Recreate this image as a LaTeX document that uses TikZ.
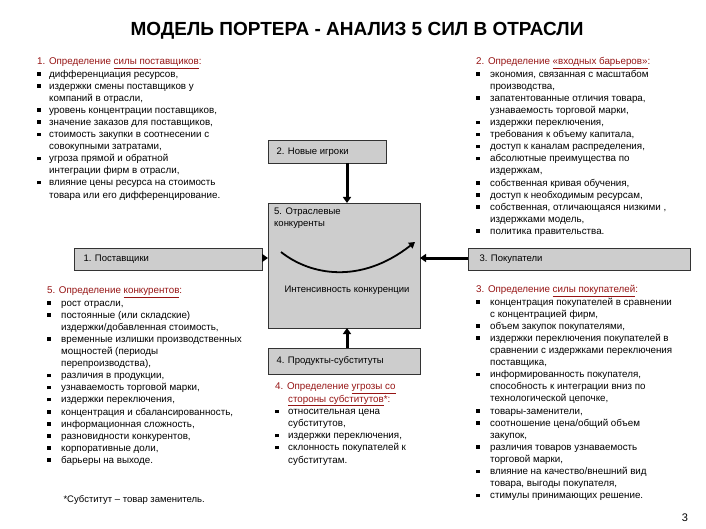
\documentclass[tikz,border=0pt]{standalone}
\usepackage{fontspec}
\setmainfont{Liberation Sans}
\usetikzlibrary{arrows.meta}
\definecolor{hd}{RGB}{150,20,20}
\definecolor{bx}{RGB}{205,205,205}
\newcommand\bb{\rule[1.5pt]{3.5pt}{3.5pt}}
\newcommand\hu[1]{\underline{#1}}
\tikzset{
  box/.style={draw=black!80,fill=bx,line width=0.8pt,inner sep=0pt},
  lbl/.style={anchor=west,font=\fontsize{9.5}{11}\selectfont},
  blk/.style={anchor=north west,inner sep=0pt,font=\fontsize{9.8}{12.1}\selectfont},
  arr/.style={line width=3pt,-{Triangle[length=6pt,width=8pt]}}
}
\begin{document}
\begin{tikzpicture}[x=1pt,y=-1pt]
\useasboundingbox (0,0) rectangle (706,529);
\node[font=\bfseries\fontsize{19}{21}\selectfont] (title) at (357,31) {МОДЕЛЬ ПОРТЕРА - АНАЛИЗ 5 СИЛ В ОТРАСЛИ};

% boxes
\node[box,minimum width=118pt,minimum height=23pt,anchor=north west] (new) at (268,140) {};
\node[lbl] (newt) at (273,152) {2. Новые игроки};
\node[box,minimum width=152pt,minimum height=125pt,anchor=north west] (riv) at (268,203) {};
\node[blk,align=left,font=\fontsize{9.5}{11.5}\selectfont] (rivt) at (274,208) {5. Отраслевые\\конкуренты};
\node[font=\fontsize{9.5}{11}\selectfont] (int) at (347,290) {Интенсивность конкуренции};
\node[box,minimum width=152pt,minimum height=26pt,anchor=north west] (sub) at (268,348) {};
\node[lbl] (subt) at (273,361) {4. Продукты-субституты};
\node[box,minimum width=188pt,minimum height=22pt,anchor=north west] (sup) at (74,248) {};
\node[lbl] (supt) at (80,259) {1. Поставщики};
\node[box,minimum width=222pt,minimum height=22pt,anchor=north west] (buy) at (468,248) {};
\node[lbl] (buyt) at (476,259) {3. Покупатели};

\coordinate (c1) at (281,252);
\coordinate (c2) at (415,242);
\draw[line width=1.8pt,-{Triangle[length=6pt,width=7pt]}] (c1) .. controls (310,275) and (360,285) .. (c2);

\coordinate (a1) at (347,163);
\coordinate (a2) at (347,203);
\coordinate (a3) at (347,348);
\coordinate (a4) at (347,328);
\coordinate (a5) at (262,258);
\coordinate (a6) at (268,258);
\coordinate (a7) at (468,258);
\coordinate (a8) at (420,258);
\draw[arr] (a1) -- (a2);
\draw[arr] (a3) -- (a4);
\draw[arr] (a5) -- (a6);
\draw[arr] (a7) -- (a8);

% top left
\node[blk] (tl) at (37,56) {\begin{tabular}{@{}p{12pt}@{}l@{}}
\multicolumn{2}{@{}l@{}}{\color{hd}1. Определение \hu{силы поставщиков}:}\\
\bb & дифференциация ресурсов,\\
\bb & издержки смены поставщиков у\\
 & компаний в отрасли,\\
\bb & уровень концентрации поставщиков,\\
\bb & значение заказов для поставщиков,\\
\bb & стоимость закупки в соотнесении с\\
 & совокупными затратами,\\
\bb & угроза прямой и обратной\\
 & интеграции фирм в отрасли,\\
\bb & влияние цены ресурса на стоимость\\
 & товара или его дифференцирование.
\end{tabular}};

% top right
\node[blk] (tr) at (476,56) {\begin{tabular}{@{}p{14pt}@{}l@{}}
\multicolumn{2}{@{}l@{}}{\color{hd}2. Определение \hu{«входных барьеров»}:}\\
\bb & экономия, связанная с масштабом\\
 & производства,\\
\bb & запатентованные отличия товара,\\
 & узнаваемость торговой марки,\\
\bb & издержки переключения,\\
\bb & требования к объему капитала,\\
\bb & доступ к каналам распределения,\\
\bb & абсолютные преимущества по\\
 & издержкам,\\
\bb & собственная кривая обучения,\\
\bb & доступ к необходимым ресурсам,\\
\bb & собственная, отличающаяся низкими ,\\
 & издержками модель,\\
\bb & политика правительства.
\end{tabular}};

% bottom left
\node[blk] (bl) at (47,285) {\begin{tabular}{@{}p{14pt}@{}l@{}}
\multicolumn{2}{@{}l@{}}{\color{hd}5. Определение \hu{конкурентов}:}\\
\bb & рост отрасли,\\
\bb & постоянные (или складские)\\
 & издержки/добавленная стоимость,\\
\bb & временные излишки производственных\\
 & мощностей (периоды\\
 & перепроизводства),\\
\bb & различия в продукции,\\
\bb & узнаваемость торговой марки,\\
\bb & издержки переключения,\\
\bb & концентрация и сбалансированность,\\
\bb & информационная сложность,\\
\bb & разновидности конкурентов,\\
\bb & корпоративные доли,\\
\bb & барьеры на выходе.
\end{tabular}};
\node[anchor=west,font=\fontsize{9.5}{11}\selectfont] (foot) at (60,500) {*Субститут – товар заменитель.};

% bottom middle
\node[blk] (bm) at (275,381) {\begin{tabular}{@{}p{13pt}@{}l@{}}
\multicolumn{2}{@{}l@{}}{\color{hd}4. Определение \hu{угрозы со}}\\
 & \color{hd}\hu{стороны субститутов}*:\\
\bb & относительная цена\\
 & субститутов,\\
\bb & издержки переключения,\\
\bb & склонность покупателей к\\
 & субститутам.
\end{tabular}};

% bottom right
\node[blk] (br) at (476,284) {\begin{tabular}{@{}p{14pt}@{}l@{}}
\multicolumn{2}{@{}l@{}}{\color{hd}3. Определение \hu{силы покупателей}:}\\
\bb & концентрация покупателей в сравнении\\
 & с концентрацией фирм,\\
\bb & объем закупок покупателями,\\
\bb & издержки переключения покупателей в\\
 & сравнении с издержками переключения\\
 & поставщика,\\
\bb & информированность покупателя,\\
 & способность к интеграции вниз по\\
 & технологической цепочке,\\
\bb & товары-заменители,\\
\bb & соотношение цена/общий объем\\
 & закупок,\\
\bb & различия товаров узнаваемость\\
 & торговой марки,\\
\bb & влияние на качество/внешний вид\\
 & товара, выгоды покупателя,\\
\bb & стимулы принимающих решение.
\end{tabular}};

\node[font=\fontsize{11}{12}\selectfont] (pg) at (685,518) {3};
\end{tikzpicture}
\end{document}
